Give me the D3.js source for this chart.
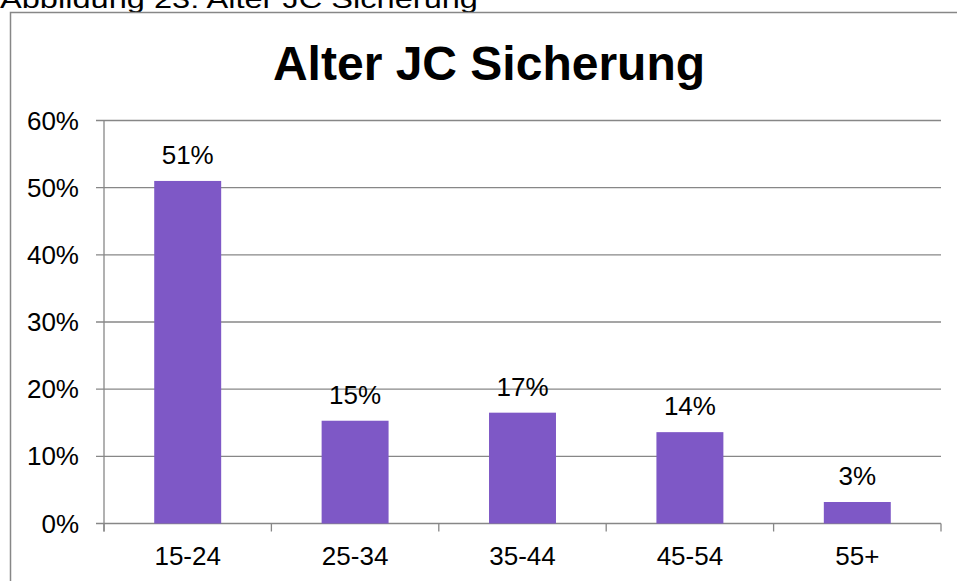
<!DOCTYPE html>
<html>
<head>
<meta charset="utf-8">
<script src="https://cdn.jsdelivr.net/npm/d3@7"></script>
<style>
  html, body { margin: 0; padding: 0; background: #fff; }
  svg { display: block; }
  text { font-family: "Liberation Sans", Arial, sans-serif; fill: #000; }
</style>
</head>
<body>
<svg id="chart" width="957" height="581"></svg>
<script>
const categories = ["15-24", "25-34", "35-44", "45-54", "55+"];
const values = [0.51, 0.153, 0.165, 0.136, 0.032];
const valueLabels = ["51%", "15%", "17%", "14%", "3%"];
const yTicks = [0, 0.1, 0.2, 0.3, 0.4, 0.5, 0.6];
const yTickLabels = ["0%", "10%", "20%", "30%", "40%", "50%", "60%"];
const captionText = "Abbildung 23: Alter JC Sicherung";
const titleText = "Alter JC Sicherung";

const svg = d3.select("#chart");
const axisColor = "#878787";
const barColor = "#7e58c6";

const plot = { left: 104, right: 941, top: 120.5, bottom: 523.5 };

const x = d3.scaleBand().domain(categories).range([plot.left, plot.right])
  .paddingInner(0.6).paddingOuter(0.3);
const y = d3.scaleLinear().domain([0, 0.6]).range([plot.bottom, plot.top]);

// caption (partly cut off at top, as in the reference)
svg.append("text").attr("x", 0).attr("y", 7.5)
  .attr("font-size", 25)
  .attr("textLength", 478).attr("lengthAdjust", "spacingAndGlyphs")
  .text(captionText);

// outer frame
svg.append("rect").attr("x", 10.5).attr("y", 12.5).attr("width", 960).attr("height", 600)
  .attr("fill", "none").attr("stroke", axisColor).attr("stroke-width", 1.5);

// title
svg.append("text").attr("x", 489).attr("y", 80)
  .attr("text-anchor", "middle").attr("font-size", 48).attr("font-weight", "bold")
  .text(titleText);

// gridlines + y tick marks
svg.append("g").selectAll("line").data(yTicks).join("line")
  .attr("x1", plot.left - 8).attr("x2", plot.right)
  .attr("y1", d => y(d)).attr("y2", d => y(d))
  .attr("stroke", axisColor).attr("stroke-width", 1.3);

// y tick labels
svg.append("g").selectAll("text").data(yTicks).join("text")
  .attr("x", 79).attr("y", d => y(d)).attr("dy", "0.35em")
  .attr("text-anchor", "end").attr("font-size", 26)
  .text((d, i) => yTickLabels[i]);

// y axis line
svg.append("line").attr("x1", plot.left).attr("x2", plot.left)
  .attr("y1", plot.top).attr("y2", plot.bottom + 8)
  .attr("stroke", axisColor).attr("stroke-width", 1.3);

// x ticks at category boundaries
const step = x.step();
const boundaries = d3.range(categories.length + 1).map(i => plot.left + i * step);
svg.append("g").selectAll("line").data(boundaries).join("line")
  .attr("x1", d => d).attr("x2", d => d)
  .attr("y1", plot.bottom).attr("y2", plot.bottom + 8)
  .attr("stroke", axisColor).attr("stroke-width", 1.3);

// bars
svg.append("g").selectAll("rect").data(values).join("rect")
  .attr("x", (d, i) => x(categories[i]))
  .attr("width", x.bandwidth())
  .attr("y", d => y(d))
  .attr("height", d => y(0) - y(d))
  .attr("fill", barColor);

// data labels
svg.append("g").selectAll("text").data(values).join("text")
  .attr("x", (d, i) => x(categories[i]) + x.bandwidth() / 2)
  .attr("y", d => y(d) - 17)
  .attr("text-anchor", "middle").attr("font-size", 26)
  .text((d, i) => valueLabels[i]);

// x labels
svg.append("g").selectAll("text").data(categories).join("text")
  .attr("x", d => x(d) + x.bandwidth() / 2)
  .attr("y", 565)
  .attr("text-anchor", "middle").attr("font-size", 26)
  .text(d => d);
</script>
</body>
</html>
